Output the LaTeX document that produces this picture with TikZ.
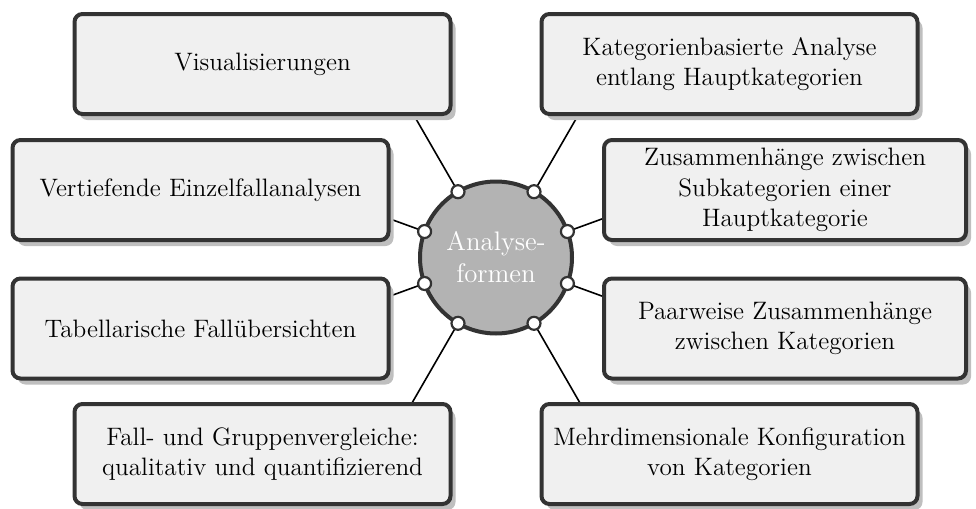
\documentclass[tikz,border=0pt]{standalone}
\usetikzlibrary{calc,shadows}
\definecolor{boxline}{HTML}{333333}
\definecolor{boxfill}{HTML}{F0F0F0}
\definecolor{shadowgray}{HTML}{BFBFBF}
\definecolor{hubfill}{HTML}{B3B3B3}
\begin{document}
\begin{tikzpicture}[x=0.5pt,y=-0.5pt,
  topicbox/.style={draw=boxline, line width=2pt, fill=boxfill,
    rounded corners=4pt, align=center,
    font=\fontsize{12.6}{15.2}\selectfont, inner sep=0pt,
    minimum height=50pt,
    drop shadow={shadow xshift=2.5pt, shadow yshift=-3pt,
      fill=shadowgray, opacity=1}},
  hub/.style={circle, draw=boxline, line width=2pt, fill=hubfill,
    minimum size=76pt, inner sep=0pt, outer sep=0pt, text=white,
    align=center, font=\fontsize{13.4}{16}\selectfont},
  port/.style={circle, draw=boxline, line width=1.1pt, fill=white,
    minimum size=6.5pt, inner sep=0pt},
  link/.style={line width=0.8pt, black}]

\useasboundingbox (0,0) rectangle (976,509);

% central hub
\node[hub] (c) at (496,257.5) {Analyse-\\formen};

% port positions on the hub rim
\foreach \a in {20,60,120,160,200,240,300,340}
  \coordinate (q\a) at (c.\a);

% radial connectors, drawn first so the boxes cover their outer ends
\foreach \a in {20,60,120,160,200,240,300,340}
  \draw[link] (q\a) -- ($(c.center)!2.4!(q\a)$);

% topic boxes
\node[topicbox, minimum width=188pt] (vis) at (262.5,64) {Visualisierungen};
\node[topicbox, minimum width=188pt] (kat) at (729.5,64)
  {Kategorienbasierte Analyse\\entlang Hauptkategorien};
\node[topicbox, minimum width=188pt] (vert) at (200.5,190)
  {Vertiefende Einzelfallanalysen};
\node[topicbox, minimum width=181pt] (zus) at (785,190)
  {Zusammenh\"ange zwischen\\Subkategorien einer\\Hauptkategorie};
\node[topicbox, minimum width=188pt] (tab) at (200.5,328.5)
  {Tabellarische Fall\"ubersichten};
\node[topicbox, minimum width=181pt] (paar) at (785,328.5)
  {Paarweise Zusammenh\"ange\\zwischen Kategorien};
\node[topicbox, minimum width=188pt] (fall) at (262.5,454)
  {Fall- und Gruppenvergleiche:\\qualitativ und quantifizierend};
\node[topicbox, minimum width=188pt] (mehr) at (729.5,454)
  {Mehrdimensionale Konfiguration\\von Kategorien};

% ports on top of the connectors
\foreach \a in {20,60,120,160,200,240,300,340}
  \node[port] (p\a) at (q\a) {};
\end{tikzpicture}
\end{document}
